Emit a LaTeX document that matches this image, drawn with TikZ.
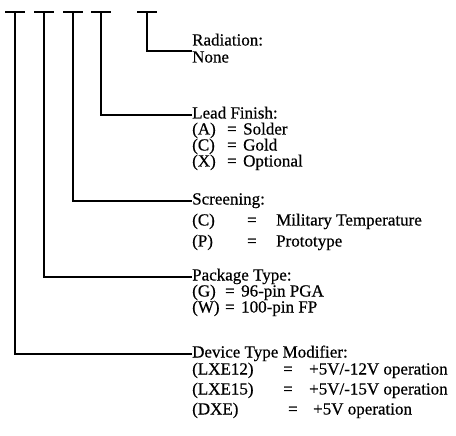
\documentclass[tikz,border=0pt]{standalone}
\usepackage{fontspec}
\setmainfont{Liberation Serif}[FakeBold=0.5]
\begin{document}
\begin{tikzpicture}[x=1pt,y=-1pt,
  lbl/.style={anchor=west,inner sep=0pt,font=\fontsize{17}{16}\selectfont,text height=11pt,text depth=4pt},
  wire/.style={line width=1.7pt},
  bar/.style={line width=2pt}]
\useasboundingbox (0,0) rectangle (456,436);
\newcommand{\row}[5]{\makebox[#1][l]{#2}\makebox[#3][l]{#4}#5}
% T tops
\coordinate (t1) at (15,12);
\coordinate (t2) at (44,12);
\coordinate (t3) at (73,12);
\coordinate (t4) at (101,12);
\coordinate (t5) at (147,12);
\foreach \t in {t1,t2,t3,t4,t5}{\draw[bar] ([xshift=-10pt]\t) -- ([xshift=10pt]\t);}
% Radiation
\node[lbl] (rad) at (192,42) {Radiation:};
\node[lbl] (radn) at (192,59) {None};
% Lead finish
\node[lbl] (lf) at (192,115) {Lead Finish:};
\node[lbl] (lfa) at (192,131) {\row{35pt}{(A)}{16pt}{=}{Solder}};
\node[lbl] (lfc) at (192,147) {\row{35pt}{(C)}{16pt}{=}{Gold}};
\node[lbl] (lfx) at (192,163) {\row{35pt}{(X)}{16pt}{=}{Optional}};
% Screening
\node[lbl] (sc) at (192,201) {Screening:};
\node[lbl] (scc) at (192,222) {\row{55pt}{(C)}{29pt}{=}{Military Temperature}};
\node[lbl] (scp) at (192,243) {\row{55pt}{(P)}{29pt}{=}{Prototype}};
% Package
\node[lbl] (pk) at (192,277) {Package Type:};
\node[lbl] (pkg) at (192,293) {\row{33pt}{(G)}{16pt}{=}{96-pin PGA}};
\node[lbl] (pkw) at (192,309) {\row{33pt}{(W)}{16pt}{=}{100-pin FP}};
% Device
\node[lbl] (dt) at (192,354) {Device Type Modifier:};
\node[lbl] (dt1) at (192,371) {\row{91pt}{(LXE12)}{26pt}{=}{+5V/-12V operation}};
\node[lbl] (dt2) at (192,391) {\row{91pt}{(LXE15)}{26pt}{=}{+5V/-15V operation}};
\node[lbl] (dt3) at (192,411) {\row{96pt}{(DXE)}{25pt}{=}{+5V operation}};
% connectors
\draw[wire] (t5) |- (radn.north west);
\draw[wire] (t4) |- (lf.west);
\draw[wire] (t3) |- (sc.west);
\draw[wire] (t2) |- (pk.west);
\draw[wire] (t1) |- (dt.west);
\end{tikzpicture}
\end{document}
